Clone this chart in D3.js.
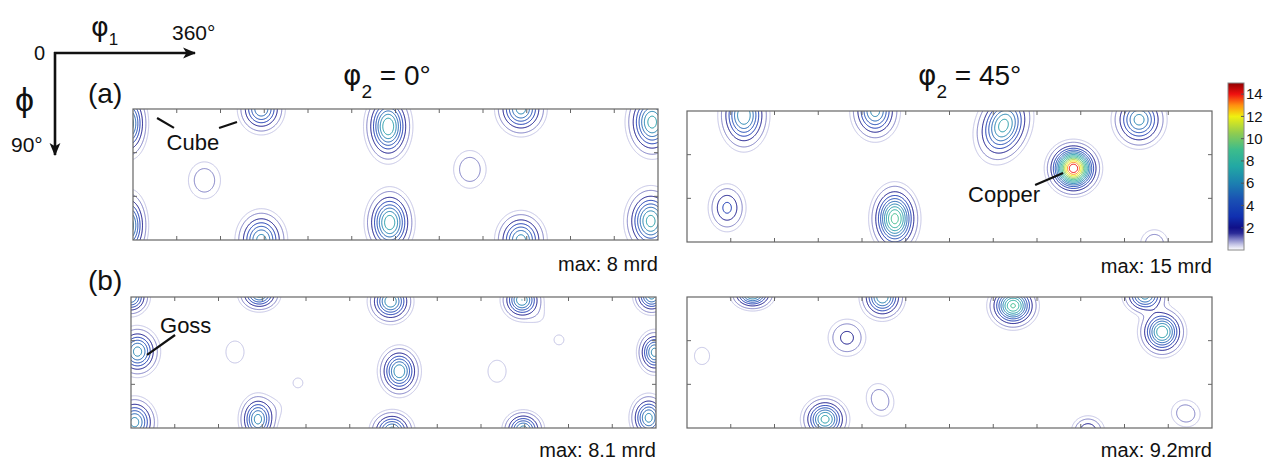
<!DOCTYPE html>
<html>
<head>
<meta charset="utf-8">
<script src="https://cdn.jsdelivr.net/npm/d3@7"></script>
<style>
body{margin:0;background:#fff}
text{font-family:"Liberation Sans",Arial,sans-serif;fill:#111}
</style>
</head>
<body>
<div class="odf"></div>
<script>
// ODF peaks: [phi1, PHI, height (mrd), sigma phi1, sigma PHI, tilt]
var peaksA0=[
	[-3,10,7,6,11,0],[-3,80,7,6,11,0],
	[88,0,6,7.4,8,0],[88,90,6.5,8,9.5,0],
	[175,12,8,7.2,11,0],[176,78,7.8,7.5,10.5,0],
	[266,0,6.5,8,8.5,0],[266,90,6.5,8,9,0],
	[356,9,7.5,8,11,0],[355,77,7.5,8,10.5,0],
	[49,49,1.6,7.2,8.3,0],[231,41.5,1.6,7.3,8.5,0]
];
var peaksA45=[
	[39,3,7,7.8,11,0],[129,0,6.5,7.7,9.5,0],
	[27.5,66.5,3.3,6.7,8.5,0],[142.5,74,9.5,7.4,10.5,0],
	[217,10,7.5,8.5,12,20],[265,39.4,15,7.7,7.7,0],
	[310,6,6.5,8.5,9,0],[320.5,91,1.7,6,6,0]
];
var peaksB0=[
	[0,0,6,6,6,0],[4.5,37.5,6.5,7,7.9,0],[2.5,86,6.5,7,8,0],
	[71.3,37.8,0.85,6,7.3,0],[114.5,59,0.6,5.5,5.5,0],
	[88,-2,6.5,6.6,5.5,0],[87,84,6.5,6,8,0],[100,76,0.45,6,6,0],
	[178,3,7,7,7,0],[184,51,7,6.6,7.9,0],[179,92,6.5,7,6.5,0],
	[268,2,7,6.5,6.5,0],[280,14,0.45,6,6,0],
	[293.5,29.5,0.6,5.5,5.5,0],[251,51,0.85,6,7.3,0],[269,91,6.5,6.5,6,0],
	[357,-1,6.5,5.8,6,0],[359,38,6.5,5.5,7,0],[355,83,6.5,6,7.5,0]
];
var peaksB45=[
	[45,-2,7.5,6.8,5,0],[10.3,40.5,0.85,5,5.7,0],
	[134,0,7,7,7.3,0],[109.7,28,2.4,7.3,7.2,0],
	[132.4,70.7,1.6,6,7.5,-20],[94.7,84,7.5,7.3,7,0],
	[223.6,6,9.2,7.5,7,0],[314,-1,6.5,7,6,0],[325.8,24,8,7.2,7.6,0],
	[275,92,3,6,5.5,0],[342,80,1.6,6.5,6,20]
];
var maxLabels=["max: 8 mrd","max: 15 mrd","max: 8.1 mrd","max: 9.2mrd"];
var levels=[0.5].concat(d3.range(1,15));
var cbTicks=[2,4,6,8,10,12,14];
var cbValues=[0,0.5,1,1.5,2,3,4.5,6,7.5,9,10.5,12,13,14,15];
var cbColors=["#ffffff","#c4c4e6","#7c7cc4","#2c2c98","#101088","#1030b0","#1a50b4","#1c80b0","#22a8a4","#3cbc8c","#90cc50","#f0f010","#ff9010","#f01010","#900000"];

var width=1271,height=463;
var svg=d3.select('div.odf').append('svg')
	.attr('width',width).attr('height',height);
var color=d3.scaleLinear().domain(cbValues).range(cbColors);

var pw=525,ph=131;
var panels=[
	{x:133,y:109,peaks:peaksA0,max:maxLabels[0]},
	{x:687,y:111,peaks:peaksA45,max:maxLabels[1]},
	{x:131,y:297,peaks:peaksB0,max:maxLabels[2]},
	{x:687,y:297,peaks:peaksB45,max:maxLabels[3]}
];

var res=0.5,pad=10;
var nx=Math.round((360+2*pad)/res)+1,ny=Math.round((90+2*pad)/res)+1;

function field(peaks){
	var vals=new Float64Array(nx*ny);
	for(var j=0;j<ny;j++){
		var P=j*res-pad;
		for(var i=0;i<nx;i++){
			var p1=i*res-pad,v=0;
			peaks.forEach(function(k){
				var dx=p1-k[0],dy=P-k[1],t=k[5]*Math.PI/180;
				var u=dx*Math.cos(t)+dy*Math.sin(t),w=-dx*Math.sin(t)+dy*Math.cos(t);
				v+=k[2]*Math.exp(-(u*u/(2*k[3]*k[3])+w*w/(2*k[4]*k[4])));
			});
			vals[j*nx+i]=v;
		}
	}
	return vals;
}

panels.forEach(function(p,n){
	var xs=d3.scaleLinear().domain([0,360]).range([p.x,p.x+pw]);
	var ys=d3.scaleLinear().domain([0,90]).range([p.y,p.y+ph]);
	p.xs=xs;p.ys=ys;
	svg.append('clipPath').attr('id','clip'+n)
		.append('rect').attr('x',p.x).attr('y',p.y).attr('width',pw).attr('height',ph);
	var g=svg.append('g').attr('clip-path','url(#clip'+n+')');
	var proj=d3.geoTransform({point:function(x,y){
		this.stream.point(xs((x-0.5)*res-pad),ys((y-0.5)*res-pad));
	}});
	var path=d3.geoPath(proj);
	var cs=d3.contours().size([nx,ny]).thresholds(levels)(field(p.peaks));
	g.selectAll('path').data(cs).enter().append('path')
		.attr('d',path)
		.attr('fill','none')
		.attr('stroke',function(d){return color(d.value);})
		.attr('stroke-width',1);
	// frame and inward ticks every 30 deg
	var fr=svg.append('g');
	fr.append('rect').attr('x',p.x).attr('y',p.y).attr('width',pw).attr('height',ph)
		.attr('fill','none').attr('stroke','#666').attr('stroke-width',1.2);
	var tx=d3.range(30,360,30),ty=[30,60];
	tx.forEach(function(t){
		fr.append('line').attr('x1',xs(t)).attr('x2',xs(t)).attr('y1',p.y).attr('y2',p.y+4).attr('stroke','#666');
		fr.append('line').attr('x1',xs(t)).attr('x2',xs(t)).attr('y1',p.y+ph).attr('y2',p.y+ph-4).attr('stroke','#666');
	});
	ty.forEach(function(t){
		fr.append('line').attr('y1',ys(t)).attr('y2',ys(t)).attr('x1',p.x).attr('x2',p.x+4).attr('stroke','#666');
		fr.append('line').attr('y1',ys(t)).attr('y2',ys(t)).attr('x1',p.x+pw).attr('x2',p.x+pw-4).attr('stroke','#666');
	});
	svg.append('text').attr('x',p.x+pw).attr('y',n<2?p.y+ph+31:457)
		.attr('text-anchor','end').attr('font-size','20px').text(p.max);
});

// labels inside sections
function label(p,txt,tx,ty,l){
	svg.append('text').attr('x',p.xs(tx)).attr('y',p.ys(ty)).attr('font-size','22px').text(txt);
	l.forEach(function(s){
		svg.append('line').attr('x1',p.xs(s[0])).attr('y1',p.ys(s[1]))
			.attr('x2',p.xs(s[2])).attr('y2',p.ys(s[3]))
			.attr('stroke','#111').attr('stroke-width',2.2);
	});
}
label(panels[0],'Cube',23,28,[[16.5,6.2,28.1,13],[59,13,71.3,8.9]]);
label(panels[1],'Copper',192.7,62.5,[[238.7,50.8,257.9,42.6]]);
label(panels[2],'Goss',19.9,24.7,[[30.2,26.1,11,39.8]]);

// titles
function title(x,txt){
	var t=svg.append('text').attr('x',x).attr('y',85).attr('font-size','28px');
	t.append('tspan').attr('font-family','DejaVu Sans').text('φ');
	t.append('tspan').attr('dy',13).attr('font-size','19px').text('2');
	t.append('tspan').attr('dy',-13).text(' '+txt);
}
title(343,'= 0°');
title(918,'= 45°');
svg.append('text').attr('x',88).attr('y',103).attr('font-size','28px').text('(a)');
svg.append('text').attr('x',88).attr('y',290).attr('font-size','28px').text('(b)');

// orientation arrows
var defs=svg.append('defs');
defs.append('marker').attr('id','arr').attr('viewBox','0 0 12 10').attr('refX',11).attr('refY',5)
	.attr('markerWidth',5).attr('markerHeight',5).attr('orient','auto').attr('markerUnits','strokeWidth')
	.append('path').attr('d','M0,0 L12,5 L0,10 L3,5 Z').attr('fill','#111');
svg.append('line').attr('x1',54).attr('y1',53).attr('x2',195).attr('y2',53)
	.attr('stroke','#111').attr('stroke-width',2.6).attr('marker-end','url(#arr)');
svg.append('line').attr('x1',55).attr('y1',52).attr('x2',55).attr('y2',155)
	.attr('stroke','#111').attr('stroke-width',2.6).attr('marker-end','url(#arr)');
svg.append('text').attr('x',34).attr('y',60).attr('font-size','20px').text('0');
svg.append('text').attr('x',172).attr('y',40).attr('font-size','21px').text('360°');
svg.append('text').attr('x',11).attr('y',152).attr('font-size','21px').text('90°');
var f1=svg.append('text').attr('x',91).attr('y',36).attr('font-size','27px');
f1.append('tspan').attr('font-family','DejaVu Sans').text('φ');
f1.append('tspan').attr('dy',9).attr('font-size','17px').text('1');
svg.append('text').attr('x',15).attr('y',111).attr('font-size','34px').attr('font-family','DejaVu Sans').text('ϕ');

// colour bar
var cbX=1228,cbW=16;
var cy=d3.scaleLinear().domain([0,15]).range([250,83]);
var grad=defs.append('linearGradient').attr('id','cb').attr('x1',0).attr('x2',0).attr('y1',1).attr('y2',0);
d3.range(0,15.01,0.25).forEach(function(v){
	grad.append('stop').attr('offset',v/15).attr('stop-color',color(v));
});
svg.append('rect').attr('x',cbX).attr('y',cy(15)).attr('width',cbW).attr('height',cy(0)-cy(15))
	.attr('fill','url(#cb)').attr('stroke','#888').attr('stroke-width',1);
var cbAxis=svg.append('g');
cbTicks.forEach(function(t){
	cbAxis.append('line').attr('x1',cbX+cbW-3).attr('x2',cbX+cbW).attr('y1',cy(t)).attr('y2',cy(t)).attr('stroke','#555');
	cbAxis.append('text').attr('x',cbX+cbW+2).attr('y',cy(t)).attr('dy','0.35em')
		.attr('font-size','15px').text(t);
});
</script>
</body>
</html>
